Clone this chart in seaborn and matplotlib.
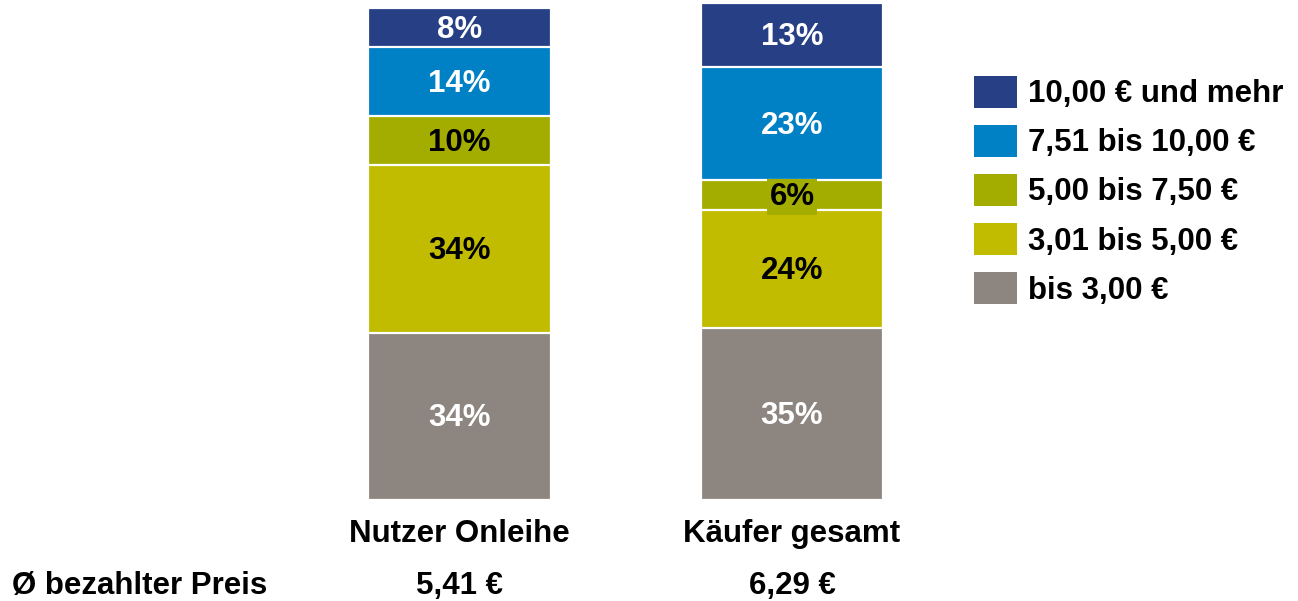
import numpy as np
import pandas as pd
import matplotlib
matplotlib.use("Agg")
import matplotlib.pyplot as plt
from matplotlib.patches import Patch
import seaborn as sns

# ----------------------------
# Data (percent shares per price band, bottom to top)
# ----------------------------
groups = ["Nutzer Onleihe", "Käufer gesamt"]
bands = ["bis 3,00 €", "3,01 bis 5,00 €", "5,00 bis 7,50 €",
         "7,51 bis 10,00 €", "10,00 € und mehr"]
onleihe = [34, 34, 10, 14, 8]
kaeufer = [35, 24, 6, 23, 13]
avg_price = ["5,41 €", "6,29 €"]

colors = ["#8D8580", "#C2BC00", "#A3AD00", "#0080C5", "#263F85"]
text_colors = ["white", "black", "black", "white", "white"]

sns.set_style("white")
plt.rcParams["font.family"] = ["Liberation Sans", "DejaVu Sans"]
plt.rcParams["font.weight"] = "bold"
plt.rcParams["text.color"] = "black"
plt.rcParams["xtick.color"] = "black"
FS = 22.5

df = pd.DataFrame({"group": np.repeat(groups, len(bands)),
                   "band": bands * len(groups),
                   "share": onleihe + kaeufer})
df["top"] = df.groupby("group")["share"].cumsum()

fig = plt.figure(figsize=(12.98, 6.01), dpi=100)
W, H = 1298, 601
ax = fig.add_axes([293.25 / W, (H - 500) / H, 665 / W, 497 / H])

# draw cumulative bars from the top band down so each layer covers the next
for i in range(len(bands) - 1, -1, -1):
    sub = df[df["band"] == bands[i]]
    sns.barplot(data=sub, x="group", y="top", order=groups, color=colors[i],
                width=0.55, edgecolor="white", linewidth=1.6, saturation=1,
                ax=ax, zorder=2)

# segment labels
for gi, g in enumerate(groups):
    sub = df[df["group"] == g].reset_index(drop=True)
    for i, row in sub.iterrows():
        mid = row["top"] - row["share"] / 2
        kw = {}
        if row["share"] < 8:
            kw["bbox"] = dict(facecolor=colors[i], edgecolor="none", pad=2)
        ax.text(gi, mid - 0.4, f"{row['share']}%", ha="center", va="center",
                color=text_colors[i], fontsize=FS, fontweight="bold",
                zorder=5, **kw)

ax.set_ylim(0, 101)
ax.set_xlim(-0.5, 1.5)
ax.set_xlabel("")
ax.set_ylabel("")
ax.set_yticks([])
ax.tick_params(axis="x", length=0, pad=14, labelsize=FS, labelcolor="black")
for lab in ax.get_xticklabels():
    lab.set_fontweight("bold")
sns.despine(ax=ax, left=True, bottom=True)

# average price row
fig.text(12 / W, 1 - 586 / H, "Ø bezahlter Preis", ha="left", va="center",
         fontsize=FS, fontweight="bold")
trans = matplotlib.transforms.blended_transform_factory(ax.transData, fig.transFigure)
for gi, p in enumerate(avg_price):
    ax.text(gi, 1 - 586 / H, p, ha="center", va="center", fontsize=FS,
            fontweight="bold", transform=trans)

handles = [Patch(facecolor=colors[i], edgecolor="none", label=bands[i])
           for i in range(len(bands) - 1, -1, -1)]
fig.legend(handles=handles, loc="upper left",
           bbox_to_anchor=(961 / W, 1 - 63 / H), frameon=False,
           prop={"size": FS, "weight": "bold"}, handlelength=1.4,
           handleheight=1.2, handletextpad=0.35, labelspacing=0.5,
           borderaxespad=0, labelcolor="black")

fig.savefig("out.png", dpi=100)
